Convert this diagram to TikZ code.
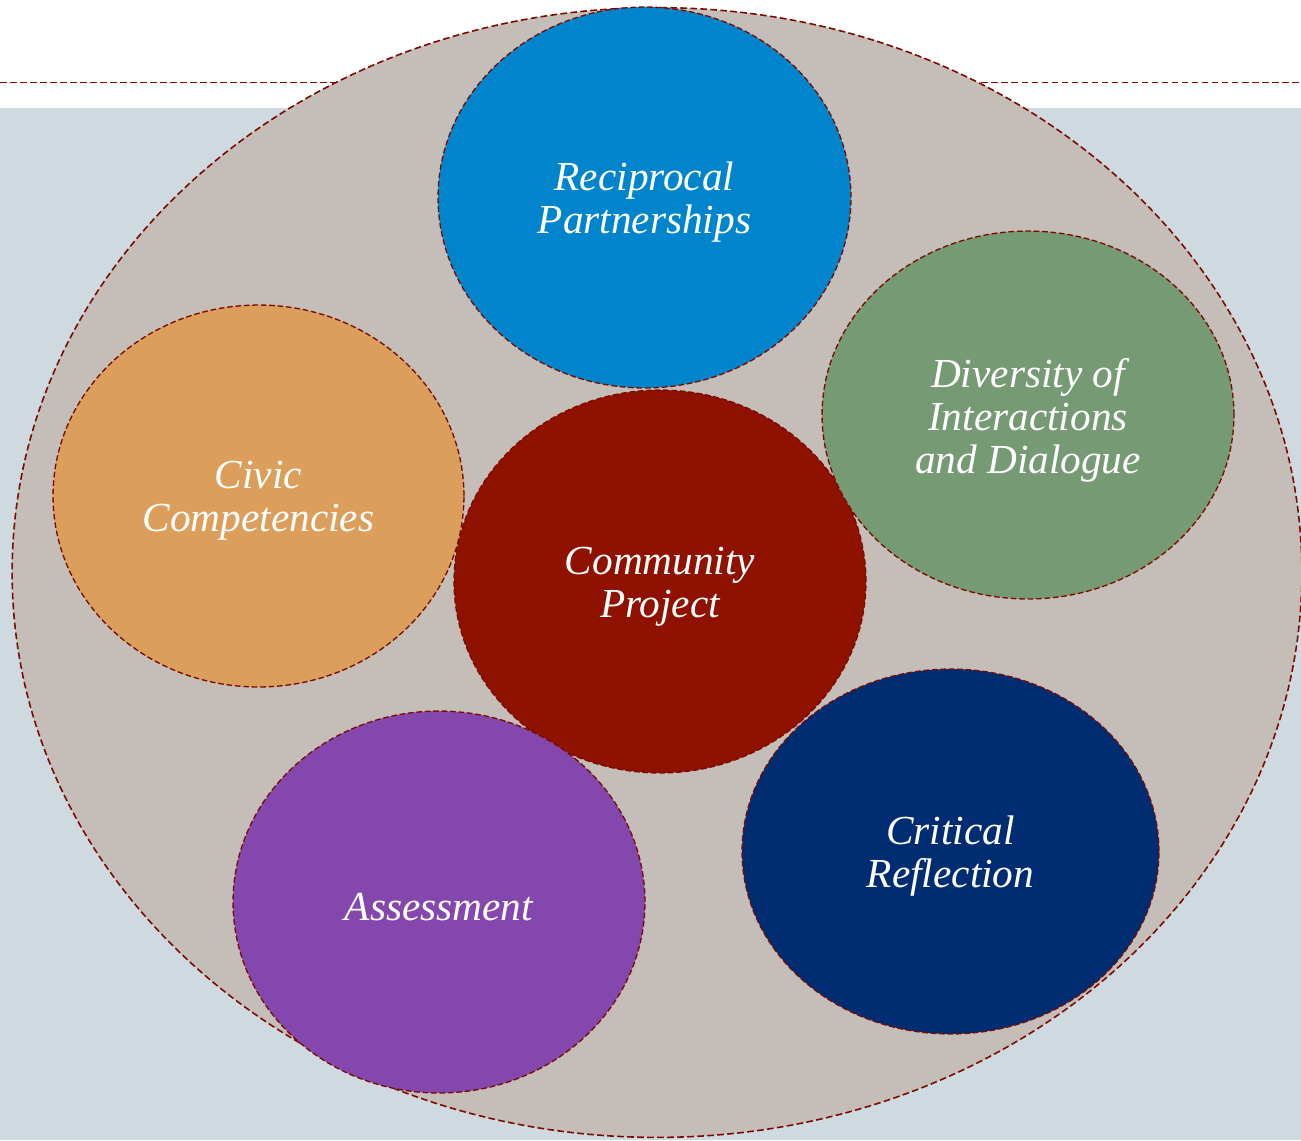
\documentclass[tikz,border=0pt]{standalone}
\usepackage{fontspec}
\setmainfont{Liberation Serif}
\usetikzlibrary{shapes.geometric}

\definecolor{rimred}{HTML}{7A0A00}
\definecolor{slidebg}{HTML}{CFDAE0}
\definecolor{ringfill}{HTML}{C5BDB7}
\definecolor{partblue}{HTML}{0084CB}
\definecolor{divgreen}{HTML}{769A73}
\definecolor{civorange}{HTML}{DB9F5B}
\definecolor{projred}{HTML}{8F1100}
\definecolor{reflnavy}{HTML}{002D72}
\definecolor{asspurple}{HTML}{8447AD}

\tikzset{
  bubble/.style={ellipse, draw=rimred, line width=0.75pt,
    dash pattern=on 3.2pt off 1.6pt, inner sep=0pt,
    minimum width=8.24cm, minimum height=7.64cm},
  caption/.style={label={[yshift=-0.1cm]center:{#1}}},
}

\begin{document}
\begin{tikzpicture}[x=0.02cm, y=-0.02cm,
    every node/.style={font=\fontsize{23.5}{24.5}\selectfont\itshape,
      text=white, align=center}]
  \useasboundingbox (0,0) rectangle (1301,1140);
  \clip (0,0) rectangle (1301,1140);
  % slide background
  \fill[white] (0,0) rectangle (1301,108);
  \fill[slidebg] (0,108) rectangle (1301,1140);
  \draw[rimred, line width=0.8pt, dash pattern=on 3.8pt off 1.9pt] (0,82.7) -- (1301,82.7);
  % outer ring
  \draw[rimred, fill=ringfill, line width=0.9pt, dash pattern=on 3.8pt off 1.9pt]
    (657,572.5) ellipse [x radius=12.9cm, y radius=11.3cm];
  % centre
  \node[bubble, fill=projred, minimum height=7.66cm,
    caption={Community\\ Project}] (proj) at (660,581.5) {};
  % around the centre
  \node[bubble, fill=partblue, minimum width=8.26cm, minimum height=7.62cm,
    caption={Reciprocal\\ Partnerships}] (part) at (644.5,197.5) {};
  \node[bubble, fill=divgreen, minimum height=7.36cm,
    caption={Diversity of\\ Interactions\\ and Dialogue}] (div) at (1028,415) {};
  \node[bubble, fill=civorange, minimum width=8.22cm,
    caption={Civic\\ Competencies}] (civ) at (258.5,496) {};
  \node[bubble, fill=reflnavy, minimum width=8.34cm, minimum height=7.3cm,
    caption={Critical\\ Reflection}] (refl) at (950.5,851.5) {};
  \node[bubble, fill=asspurple, caption={Assessment}] (ass) at (439,902) {};
\end{tikzpicture}
\end{document}
